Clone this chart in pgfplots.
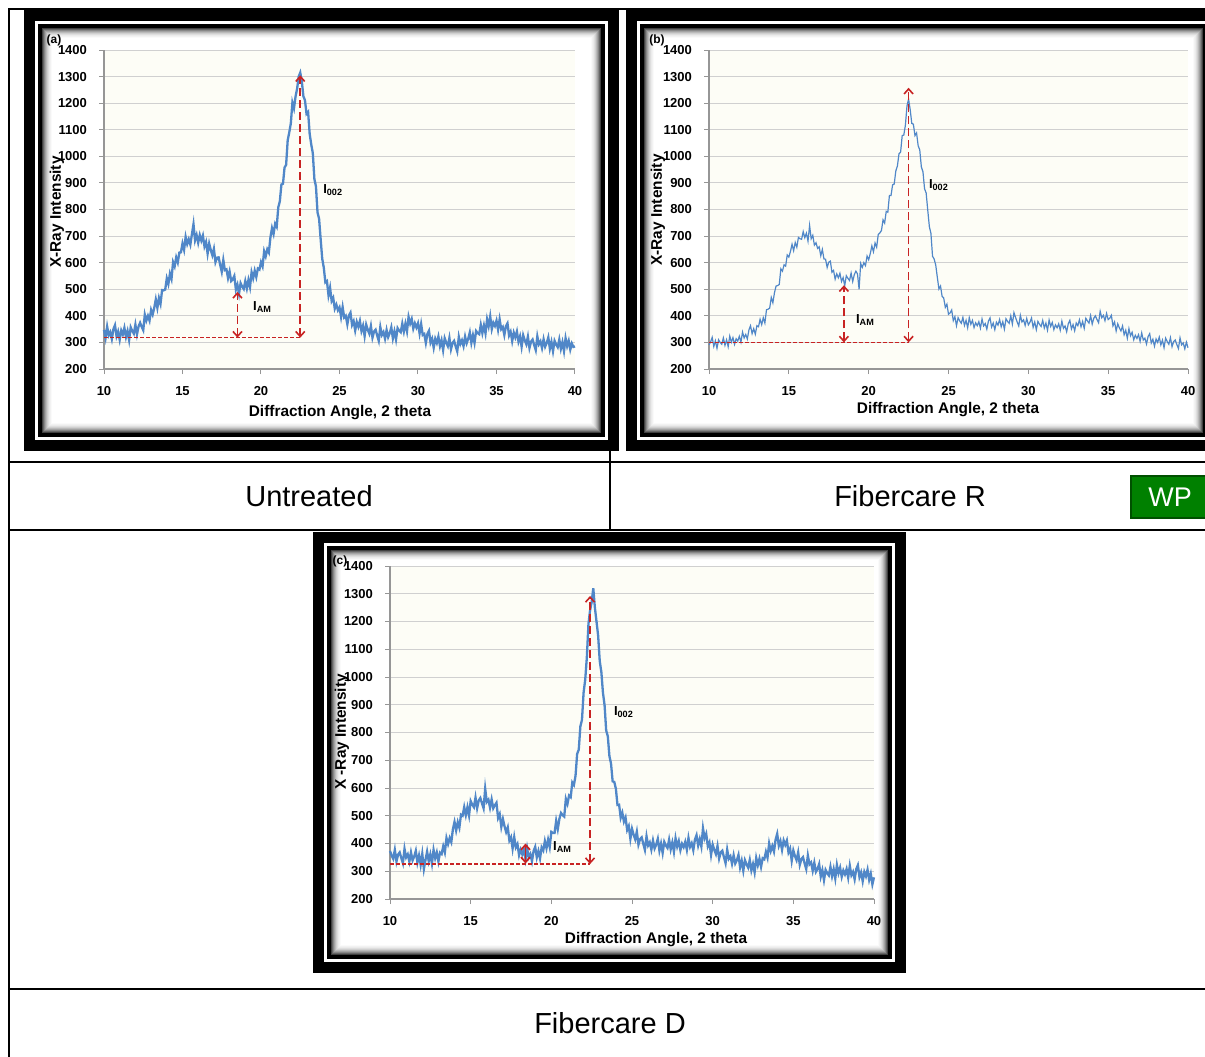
\documentclass[border=0pt]{standalone}
\usepackage{pgfplots}
\pgfplotsset{compat=1.18}
\usepackage{pgfplotstable}
\usepackage{fontspec}
\setmainfont{Liberation Sans}
\usetikzlibrary{arrows.meta}
\definecolor{xrdblue}{RGB}{80,135,200}
\definecolor{gridgray}{RGB}{208,208,208}
\definecolor{axisgray}{RGB}{150,150,150}
\definecolor{plotbg}{RGB}{253,253,246}
\definecolor{annred}{RGB}{200,35,35}
\definecolor{wpgreen}{RGB}{0,128,0}
\definecolor{wpborder}{RGB}{0,80,0}

% Untreated
\pgfplotstableread[row sep=\\]{y\\
347\\ 317\\ 360\\ 327\\ 339\\ 313\\ 350\\ 365\\ 323\\ 341\\
310\\ 345\\ 330\\ 355\\ 320\\ 343\\ 309\\ 357\\ 343\\ 333\\
367\\ 330\\ 360\\ 374\\ 359\\ 346\\ 405\\ 382\\ 400\\ 382\\
422\\ 405\\ 430\\ 462\\ 430\\ 467\\ 445\\ 497\\ 496\\ 499\\
541\\ 520\\ 559\\ 539\\ 602\\ 586\\ 620\\ 601\\ 638\\ 639\\
672\\ 648\\ 697\\ 670\\ 688\\ 668\\ 707\\ 745\\ 684\\ 704\\
675\\ 704\\ 683\\ 702\\ 661\\ 678\\ 634\\ 672\\ 648\\ 628\\
652\\ 602\\ 619\\ 620\\ 592\\ 566\\ 610\\ 572\\ 575\\ 542\\
567\\ 531\\ 537\\ 550\\ 499\\ 517\\ 483\\ 523\\ 510\\ 501\\
531\\ 503\\ 535\\ 508\\ 564\\ 541\\ 570\\ 546\\ 578\\ 574\\
602\\ 586\\ 643\\ 624\\ 650\\ 638\\ 695\\ 730\\ 708\\ 746\\
735\\ 808\\ 831\\ 894\\ 897\\ 958\\ 968\\ 1060\\ 1090\\ 1124\\
1202\\ 1180\\ 1225\\ 1254\\ 1300\\ 1315\\ 1282\\ 1226\\ 1211\\ 1160\\
1167\\ 1085\\ 1045\\ 1012\\ 915\\ 887\\ 789\\ 765\\ 688\\ 615\\
581\\ 526\\ 531\\ 477\\ 506\\ 456\\ 468\\ 427\\ 442\\ 421\\
432\\ 396\\ 433\\ 394\\ 400\\ 368\\ 401\\ 412\\ 366\\ 380\\
345\\ 377\\ 359\\ 381\\ 343\\ 363\\ 324\\ 367\\ 348\\ 333\\
362\\ 318\\ 341\\ 348\\ 326\\ 306\\ 358\\ 328\\ 339\\ 314\\
347\\ 320\\ 335\\ 357\\ 315\\ 342\\ 311\\ 354\\ 344\\ 338\\
371\\ 341\\ 371\\ 342\\ 396\\ 371\\ 388\\ 352\\ 372\\ 356\\
372\\ 334\\ 369\\ 328\\ 332\\ 298\\ 332\\ 344\\ 299\\ 314\\
280\\ 314\\ 298\\ 322\\ 286\\ 308\\ 271\\ 316\\ 299\\ 286\\
317\\ 274\\ 298\\ 306\\ 285\\ 266\\ 321\\ 294\\ 308\\ 286\\
322\\ 297\\ 314\\ 338\\ 298\\ 327\\ 298\\ 343\\ 335\\ 331\\
366\\ 335\\ 364\\ 334\\ 387\\ 361\\ 398\\ 350\\ 374\\ 362\\
382\\ 348\\ 387\\ 350\\ 358\\ 328\\ 361\\ 372\\ 326\\ 340\\
305\\ 337\\ 319\\ 341\\ 303\\ 323\\ 284\\ 327\\ 308\\ 293\\
322\\ 279\\ 303\\ 311\\ 290\\ 271\\ 323\\ 293\\ 304\\ 279\\
312\\ 284\\ 298\\ 319\\ 276\\ 302\\ 267\\ 306\\ 292\\ 282\\
311\\ 276\\ 301\\ 267\\ 316\\ 286\\ 306\\ 273\\ 296\\ 283\\
285\\
}\tabA

% Fibercare R
\pgfplotstableread[row sep=\\]{y\\
291\\ 302\\ 319\\ 285\\ 306\\ 278\\ 310\\ 300\\ 293\\ 317\\
289\\ 310\\ 284\\ 324\\ 301\\ 318\\ 293\\ 314\\ 305\\ 323\\
301\\ 339\\ 317\\ 330\\ 313\\ 347\\ 363\\ 333\\ 352\\ 331\\
363\\ 359\\ 387\\ 367\\ 393\\ 373\\ 423\\ 425\\ 429\\ 469\\
449\\ 487\\ 512\\ 514\\ 518\\ 577\\ 568\\ 592\\ 587\\ 629\\
621\\ 642\\ 669\\ 645\\ 676\\ 658\\ 695\\ 690\\ 688\\ 717\\
694\\ 711\\ 681\\ 740\\ 690\\ 703\\ 666\\ 675\\ 654\\ 660\\
626\\ 650\\ 614\\ 613\\ 582\\ 602\\ 606\\ 564\\ 571\\ 538\\
558\\ 543\\ 560\\ 529\\ 544\\ 513\\ 551\\ 541\\ 533\\ 561\\
529\\ 555\\ 568\\ 558\\ 500\\ 597\\ 582\\ 600\\ 589\\ 625\\
611\\ 634\\ 663\\ 641\\ 674\\ 658\\ 706\\ 712\\ 721\\ 761\\
749\\ 793\\ 790\\ 853\\ 853\\ 893\\ 896\\ 945\\ 964\\ 1010\\
1016\\ 1078\\ 1080\\ 1117\\ 1190\\ 1215\\ 1176\\ 1124\\ 1121\\ 1078\\
1088\\ 1040\\ 1024\\ 960\\ 942\\ 878\\ 862\\ 798\\ 736\\ 710\\
624\\ 614\\ 591\\ 545\\ 501\\ 512\\ 473\\ 467\\ 432\\ 444\\
406\\ 411\\ 422\\ 382\\ 397\\ 363\\ 393\\ 381\\ 372\\ 394\\
364\\ 383\\ 355\\ 393\\ 368\\ 383\\ 356\\ 374\\ 363\\ 378\\
354\\ 388\\ 362\\ 371\\ 350\\ 380\\ 392\\ 358\\ 373\\ 348\\
376\\ 365\\ 386\\ 359\\ 378\\ 350\\ 389\\ 379\\ 372\\ 400\\
369\\ 412\\ 394\\ 377\\ 362\\ 402\\ 377\\ 385\\ 364\\ 390\\
366\\ 376\\ 392\\ 357\\ 377\\ 348\\ 379\\ 368\\ 360\\ 383\\
354\\ 373\\ 346\\ 384\\ 360\\ 375\\ 348\\ 366\\ 355\\ 370\\
346\\ 380\\ 353\\ 362\\ 340\\ 370\\ 383\\ 351\\ 367\\ 344\\
373\\ 363\\ 385\\ 359\\ 379\\ 353\\ 391\\ 381\\ 373\\ 401\\
369\\ 391\\ 400\\ 386\\ 374\\ 417\\ 393\\ 402\\ 382\\ 409\\
386\\ 391\\ 402\\ 362\\ 377\\ 343\\ 370\\ 355\\ 343\\ 362\\
329\\ 346\\ 316\\ 352\\ 325\\ 338\\ 310\\ 327\\ 315\\ 329\\
304\\ 336\\ 309\\ 316\\ 294\\ 322\\ 333\\ 298\\ 312\\ 286\\
313\\ 300\\ 320\\ 291\\ 309\\ 280\\ 316\\ 303\\ 293\\ 318\\
284\\ 303\\ 309\\ 292\\ 277\\ 317\\ 291\\ 298\\ 276\\ 301\\
280\\
}\tabB

% Fibercare D
\pgfplotstableread[row sep=\\]{y\\
373\\ 357\\ 345\\ 377\\ 335\\ 360\\ 368\\ 348\\ 329\\ 381\\
350\\ 361\\ 335\\ 368\\ 339\\ 353\\ 374\\ 331\\ 357\\ 323\\
363\\ 308\\ 341\\ 371\\ 336\\ 361\\ 327\\ 377\\ 347\\ 368\\
335\\ 367\\ 362\\ 390\\ 368\\ 420\\ 398\\ 420\\ 405\\ 452\\
478\\ 447\\ 477\\ 457\\ 504\\ 500\\ 531\\ 502\\ 531\\ 501\\
553\\ 540\\ 531\\ 566\\ 527\\ 555\\ 564\\ 545\\ 527\\ 598\\
550\\ 558\\ 529\\ 559\\ 527\\ 538\\ 547\\ 492\\ 506\\ 460\\
488\\ 462\\ 441\\ 458\\ 411\\ 423\\ 382\\ 423\\ 386\\ 398\\
358\\ 378\\ 361\\ 377\\ 343\\ 383\\ 350\\ 362\\ 336\\ 373\\
388\\ 350\\ 373\\ 346\\ 386\\ 375\\ 409\\ 383\\ 414\\ 387\\
442\\ 438\\ 438\\ 482\\ 452\\ 489\\ 510\\ 502\\ 497\\ 561\\
543\\ 573\\ 567\\ 620\\ 611\\ 644\\ 723\\ 738\\ 822\\ 846\\
944\\ 990\\ 1070\\ 1190\\ 1240\\ 1270\\ 1320\\ 1250\\ 1200\\ 1150\\
1058\\ 1018\\ 943\\ 899\\ 807\\ 787\\ 715\\ 688\\ 624\\ 622\\
598\\ 539\\ 540\\ 493\\ 511\\ 479\\ 494\\ 449\\ 463\\ 417\\
453\\ 432\\ 415\\ 443\\ 396\\ 416\\ 422\\ 399\\ 377\\ 426\\
393\\ 404\\ 378\\ 411\\ 382\\ 396\\ 417\\ 374\\ 400\\ 366\\
406\\ 393\\ 384\\ 414\\ 379\\ 404\\ 370\\ 419\\ 389\\ 409\\
376\\ 399\\ 387\\ 406\\ 377\\ 420\\ 388\\ 401\\ 376\\ 414\\
430\\ 393\\ 416\\ 389\\ 455\\ 419\\ 435\\ 390\\ 404\\ 359\\
396\\ 377\\ 362\\ 391\\ 346\\ 368\\ 374\\ 351\\ 329\\ 378\\
345\\ 354\\ 327\\ 358\\ 328\\ 340\\ 359\\ 314\\ 338\\ 302\\
340\\ 325\\ 313\\ 341\\ 303\\ 326\\ 296\\ 348\\ 322\\ 345\\
316\\ 347\\ 343\\ 370\\ 349\\ 400\\ 373\\ 391\\ 371\\ 414\\
435\\ 392\\ 409\\ 377\\ 411\\ 395\\ 411\\ 368\\ 382\\ 338\\
375\\ 355\\ 340\\ 368\\ 323\\ 344\\ 351\\ 328\\ 308\\ 357\\
325\\ 332\\ 302\\ 331\\ 298\\ 308\\ 326\\ 281\\ 304\\ 268\\
305\\ 293\\ 285\\ 316\\ 282\\ 308\\ 274\\ 323\\ 293\\ 313\\
280\\ 303\\ 289\\ 308\\ 277\\ 320\\ 286\\ 298\\ 271\\ 308\\
322\\ 279\\ 296\\ 264\\ 298\\ 282\\ 306\\ 269\\ 291\\ 253\\
278\\
}\tabC

\newcommand{\tickfont}{\bfseries\fontsize{6.5}{7}\selectfont}
\newcommand{\labfont}{\bfseries\fontsize{7.7}{9}\selectfont}
\newcommand{\annfont}{\bfseries\fontsize{6.5}{7}\selectfont}
\newcommand{\capfont}{\fontsize{14.5}{17}\selectfont}

\newcommand{\imgframe}[4]{%
  \fill[black] (#1,#2) rectangle (#3,#4);
  \fill[white] ({#1+11},{#2+11}) rectangle ({#3-11},{#4-11});
  \fill[black] ({#1+14},{#2+14}) rectangle ({#3-14},{#4-14});
  \fill[white] ({#1+18},{#2+18}) rectangle ({#3-18},{#4-18});
  \foreach \k/\c in {0.5/75,1.5/60,2.5/47,3.5/36,4.5/27,5.5/19,6.5/13,7.5/8,8.5/5,9.5/2}{
    \draw[black!\c, line width=0.5pt] ({#1+18+\k},{#2+18+\k}) rectangle ({#3-18-\k},{#4-18-\k});
  }
}

\pgfplotsset{xrd/.style={
  scale only axis,
  xmin=10, xmax=40, ymin=200, ymax=1400,
  xtick={10,15,...,40}, ytick={200,300,...,1400},
  axis x line*=bottom, axis y line*=left,
  axis line style={draw=axisgray, line width=0.6pt},
  ymajorgrids, grid style={draw=gridgray, line width=0.5pt},
  tick style={draw=axisgray, line width=0.5pt},
  tick align=outside, major tick length=2.5pt,
  ticklabel style={font=\tickfont, text=black},
  /pgf/number format/assume math mode=true,
  /pgf/number format/1000 sep={},
  yticklabel style={xshift=-2.5pt},
  xticklabel style={yshift=-2.5pt},
  axis background/.style={fill=plotbg},
  clip=false,
}}
\tikzset{
ann/.style={annred, line width=0.8pt, dash pattern=on 4pt off 2pt},
annh/.style={annred, line width=0.6pt, dash pattern=on 2pt off 1pt},
annar/.style={{Straight Barb[length=2.5pt,width=4.5pt]}-{Straight Barb[length=2.5pt,width=4.5pt]}},
}

\begin{document}
\begin{tikzpicture}
\useasboundingbox (0,0) rectangle (602.5pt,-528pt);
\clip (0,0) rectangle (602.5pt,-528pt);
\begin{scope}[x=0.5pt,y=-0.5pt]
\fill[white] (0,0) rectangle (1205,1056);
\draw[line width=1pt] (8.5,9) -- (8.5,1070);
\draw[line width=1pt] (8,9) -- (1215,9);
\draw[line width=1pt] (610,9) -- (610,530);
\draw[line width=1pt] (8,462) -- (1215,462);
\draw[line width=1pt] (8,530) -- (1215,530);
\draw[line width=1pt] (8,989) -- (1215,989);
\imgframe{24}{10}{619}{451}
\imgframe{626}{10}{1221}{451}
\imgframe{313}{532}{906}{973}
\node[font=\capfont] at (309,496) {Untreated};
\node[font=\capfont] at (910,496) {Fibercare R};
\node[font=\capfont] at (610,1023) {Fibercare D};
\fill[wpgreen, draw=wpborder, line width=0.6pt] (1131,476) rectangle (1215,518);
\node[font=\fontsize{13.5}{16}\selectfont, text=white] at (1170,497) {WP};
\end{scope}

% (a) Untreated
\begin{axis}[xrd, at={(52pt,-184.5pt)}, anchor=south west, width=235.5pt, height=159.5pt]
\addplot[xrdblue, line width=1.15pt] table[x expr=10+0.1*\coordindex, y=y] {\tabA};
\draw[annh] (axis cs:10,318) -- (axis cs:22.5,318);
\draw[ann, annar] (axis cs:18.5,318) -- (axis cs:18.5,490);
\draw[ann, annar] (axis cs:22.5,318) -- (axis cs:22.5,1305);
\node[font=\annfont] at (axis cs:20.1,433) {I\textsubscript{AM}};
\node[font=\annfont] at (axis cs:24.6,873) {I\textsubscript{002}};
\end{axis}

% (b) Fibercare R
\begin{axis}[xrd, at={(354.5pt,-184.5pt)}, anchor=south west, width=239.5pt, height=159.5pt]
\addplot[xrdblue, line width=0.6pt] table[x expr=10+0.1*\coordindex, y=y] {\tabB};
\draw[annh] (axis cs:10,300) -- (axis cs:22.5,300);
\draw[ann, annar] (axis cs:18.45,300) -- (axis cs:18.45,515);
\draw[ann, annar] (axis cs:22.5,300) -- (axis cs:22.5,1258);
\node[font=\annfont] at (axis cs:19.8,384) {I\textsubscript{AM}};
\node[font=\annfont] at (axis cs:24.4,892) {I\textsubscript{002}};
\end{axis}

% (c) Fibercare D
\begin{axis}[xrd, at={(195pt,-449.5pt)}, anchor=south west, width=242pt, height=166.5pt]
\addplot[xrdblue, line width=1.15pt] table[x expr=10+0.1*\coordindex, y=y] {\tabC};
\draw[annh] (axis cs:10,326) -- (axis cs:22.4,326);
\draw[annred, line width=0.9pt, annar] (axis cs:18.4,328) -- (axis cs:18.4,400);
\draw[ann, annar] (axis cs:22.4,326) -- (axis cs:22.4,1292);
\node[font=\annfont] at (axis cs:20.7,387) {I\textsubscript{AM}};
\node[font=\annfont] at (axis cs:24.5,874) {I\textsubscript{002}};
\end{axis}

\begin{scope}[x=0.5pt,y=-0.5pt]
\node[font=\labfont, rotate=90] at (57,212) {X-Ray Intensity};
\node[font=\labfont] at (340,413) {Diffraction Angle, 2 theta};
\node[font=\labfont, rotate=90] at (658,210) {X-Ray Intensity};
\node[font=\labfont] at (948,410) {Diffraction Angle, 2 theta};
\node[font=\labfont, rotate=90] at (342,732) {X -Ray Intensity};
\node[font=\labfont] at (656,940) {Diffraction Angle, 2 theta};
\node[font=\bfseries\fontsize{6}{7}\selectfont, inner sep=0pt] at (54,40) {(a)};
\node[font=\bfseries\fontsize{6}{7}\selectfont, inner sep=0pt] at (657,40) {(b)};
\node[font=\bfseries\fontsize{6}{7}\selectfont, inner sep=0pt] at (340,561) {(c)};
\end{scope}
\end{tikzpicture}
\end{document}
